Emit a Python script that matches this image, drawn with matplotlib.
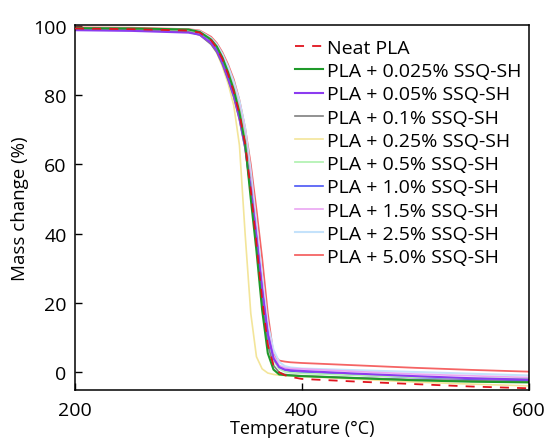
import matplotlib
matplotlib.use("Agg")
import matplotlib.pyplot as plt

plt.rcParams['font.family'] = ['Open Sans', 'DejaVu Sans']

temperature = [200, 250, 300, 310, 320, 325, 330, 335, 340, 345, 350, 355, 360,
               365, 370, 375, 380, 385, 390, 400, 450, 500, 550, 600]

neat_pla = [99.2, 99.0, 98.6, 98.0, 95.8, 93.6, 90.4, 86.0, 81.0, 74.5, 66.0, 52.5, 37.0,
            21.0, 8.0, 2.0, 0.0, -0.8, -1.3, -1.9, -2.7, -3.4, -4.1, -4.6]
pla_0025 = [99.3, 99.2, 98.9, 98.2, 96.0, 94.0, 90.8, 86.5, 81.5, 75.0, 66.0, 50.0, 35.0,
            18.0, 5.5, 0.8, -0.6, -0.8, -0.9, -1.1, -1.7, -2.3, -2.7, -2.9]
pla_005 = [98.7, 98.5, 98.0, 97.4, 95.0, 92.8, 89.3, 84.8, 79.8, 73.3, 65.0, 53.0, 39.0,
           24.0, 11.0, 4.0, 1.5, 0.8, 0.6, 0.4, -0.4, -1.1, -1.7, -2.1]
pla_01 = [99.0, 98.8, 98.2, 97.3, 94.6, 92.3, 88.8, 84.3, 79.3, 72.8, 64.5, 52.0, 37.0,
          21.0, 8.0, 2.0, 0.0, -0.6, -0.8, -1.0, -1.6, -2.1, -2.4, -2.7]
pla_025 = [98.9, 98.7, 98.2, 97.4, 94.8, 92.2, 88.2, 83.3, 77.0, 65.5, 40.0, 17.0, 4.5,
           1.0, -0.2, -0.6, -0.8, -0.9, -1.0, -1.2, -2.0, -2.8, -3.4, -3.9]
pla_05 = [99.1, 99.0, 98.7, 98.1, 95.9, 93.9, 90.8, 86.8, 82.0, 76.0, 67.5, 54.0, 38.0,
          22.0, 10.0, 3.5, 1.0, 0.2, -0.1, -0.3, -0.9, -1.4, -1.7, -1.9]
pla_10 = [99.0, 98.9, 98.5, 98.0, 95.6, 93.5, 90.3, 86.2, 81.5, 75.5, 67.0, 54.0, 39.0,
          24.0, 11.0, 4.0, 1.2, 0.5, 0.2, 0.0, -0.8, -1.5, -2.0, -2.4]
pla_15 = [99.1, 99.0, 98.6, 98.0, 95.8, 93.8, 90.8, 87.0, 82.5, 77.0, 69.0, 56.0, 41.0,
          26.0, 12.5, 5.0, 2.0, 1.3, 1.1, 1.0, 0.2, -0.5, -1.0, -1.5]
pla_25 = [99.2, 99.1, 98.8, 98.4, 96.4, 94.6, 91.8, 88.2, 83.8, 78.3, 70.5, 58.0, 43.0,
          28.0, 14.0, 6.5, 3.0, 1.8, 1.4, 1.1, 0.6, 0.1, -0.4, -0.9]
pla_50 = [99.5, 99.4, 99.0, 98.6, 96.8, 95.0, 92.3, 88.8, 84.5, 78.5, 70.5, 60.0, 47.0,
          33.0, 17.0, 5.2, 3.4, 3.1, 2.9, 2.7, 2.0, 1.3, 0.7, 0.2]

labels = ["Neat PLA", "PLA + 0.025% SSQ-SH", "PLA + 0.05% SSQ-SH", "PLA + 0.1% SSQ-SH",
          "PLA + 0.25% SSQ-SH", "PLA + 0.5% SSQ-SH", "PLA + 1.0% SSQ-SH",
          "PLA + 1.5% SSQ-SH", "PLA + 2.5% SSQ-SH", "PLA + 5.0% SSQ-SH"]
series = [neat_pla, pla_0025, pla_005, pla_01, pla_025, pla_05, pla_10, pla_15, pla_25, pla_50]
colors = ["#e0141e", "#1f9a2a", "#8c3cf0", "#7f7f7f", "#f3e59a", "#b4f2b4",
          "#4a55f5", "#eaa6f2", "#c4e2fb", "#f56464"]
widths = [1.3, 1.5, 1.5, 1.2, 1.2, 1.3, 1.2, 1.2, 1.5, 1.3]

fig = plt.figure(figsize=(5.45, 4.39), dpi=100)
ax = fig.add_axes([0.1376, 0.1093, 0.8324, 0.8315])

order = [0, 9, 8, 7, 6, 5, 4, 3, 2, 1]
handles = {}
for i in order:
    ls = (0, (5, 4.5)) if i == 0 else '-'
    h, = ax.plot(temperature, series[i], color=colors[i], lw=widths[i], ls=ls,
                 label=labels[i], zorder=3 if i == 0 else 2)
    handles[i] = h

ax.set_xlim(200, 600)
ax.set_ylim(-5.1, 100.2)
ax.set_xticks([200, 400, 600])
ax.set_yticks([0, 20, 40, 60, 80, 100])
ax.tick_params(direction='in', length=5, width=1, labelsize=14, pad=6)
ax.tick_params(axis='x', pad=8)
for s in ax.spines.values():
    s.set_linewidth(1.1)

ax.set_xlabel("Temperature (°C)", fontsize=13, labelpad=0)
ax.set_ylabel("Mass change (%)", fontsize=13.5, labelpad=3)

leg = ax.legend([handles[i] for i in range(10)], labels, loc='upper left',
                bbox_to_anchor=(0.541, 0.909), bbox_transform=fig.transFigure,
                frameon=False, fontsize=14, handlelength=1.45, handletextpad=0.18,
                labelspacing=0.27, borderpad=0, borderaxespad=0)

fig.savefig("out.png", dpi=100)
